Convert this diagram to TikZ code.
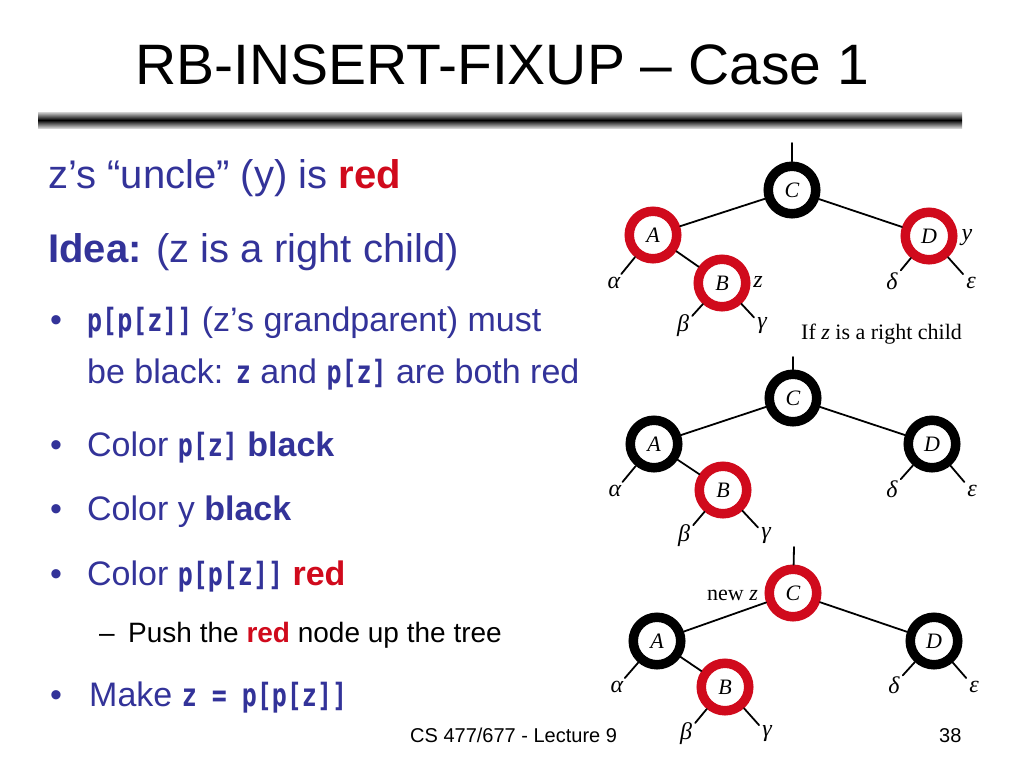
\documentclass[tikz,border=0pt]{standalone}
\usepackage{fontspec}
\setmainfont{Liberation Sans}
\newfontfamily\codefont[FakeStretch=0.78]{DejaVu Sans Mono}
\newfontfamily\tmsfont{Liberation Serif}
\definecolor{txtblue}{RGB}{51,51,153}
\definecolor{rbred}{RGB}{208,10,28}
\newcommand{\cd}[1]{{\codefont\bfseries\fontsize{32}{32}\selectfont #1}}
\newcommand{\rd}[1]{{\bfseries\color{rbred}#1}}
\begin{document}
\begin{tikzpicture}[x=1pt,y=-1pt,
  rbnode/.style={circle, minimum size=57pt, inner sep=0pt, outer sep=0pt,
    font=\tmsfont\itshape\fontsize{22}{22}\selectfont},
  rednode/.style={rbnode},
  blknode/.style={rbnode},
  redring/.style={draw=rbred, line width=9.5pt},
  blkring/.style={draw=black, line width=9.5pt},
  leaf/.style={font=\tmsfont\itshape\fontsize{24}{24}\selectfont, inner sep=3pt},
  tag/.style={font=\tmsfont\itshape\fontsize{24}{24}\selectfont, inner sep=0pt},
  edge/.style={line width=1.8pt, line cap=round},
  lvlone/.style={anchor=base west, inner sep=0pt, text=txtblue, font=\fontsize{40}{46}\selectfont},
  lvltwo/.style={anchor=base west, inner sep=0pt, text=txtblue, font=\fontsize{34}{40}\selectfont},
  bul/.style={anchor=base west, inner sep=0pt, text=txtblue, font=\fontsize{34}{40}\selectfont},
  subtxt/.style={anchor=base west, inner sep=0pt, text=black, font=\fontsize{28}{32}\selectfont},
  foot/.style={anchor=base west, inner sep=0pt, text=black, font=\fontsize{20}{24}\selectfont},
  caption/.style={anchor=base west, inner sep=0pt, text=black, font=\tmsfont\fontsize{22}{26}\selectfont}
]
\useasboundingbox[fill=white] (0,0) rectangle (1024,768);

% title
\node[anchor=base west, inner sep=0pt, font=\fontsize{57}{64}\selectfont] (title) at (135,84) {RB-INSERT-FIXUP -- Case 1};
\shade[top color=gray!35, bottom color=gray!35, middle color=black] (38,112) rectangle (962,128);

% left text
\node[lvlone] (l1) at (48,188) {z’s “uncle” (y) is \rd{red}};
\node[lvlone] (l2) at (48,262) {\textbf{Idea:} (z is a right child)};
\node[bul] (b1) at (50,331) {•};
\node[lvltwo] (t1) at (87,331) {\cd{p[p[z]]} (z’s grandparent) must};
\node[lvltwo] (t1b) at (87,383) {be black: \cd{z} and \cd{p[z]} are both red};
\node[bul] (b2) at (50,456) {•};
\node[lvltwo] (t2) at (87,456) {Color \cd{p[z]} \textbf{black}};
\node[bul] (b3) at (50,520) {•};
\node[lvltwo] (t3) at (87,520) {Color y \textbf{black}};
\node[bul] (b4) at (50,585) {•};
\node[lvltwo] (t4) at (87,585) {Color \cd{p[p[z]]} \rd{red}};
\node[subtxt] (d1) at (99,642) {--};
\node[subtxt] (s1) at (128,642) {Push the \rd{red} node up the tree};
\node[bul] (b5) at (50,706) {•};
\node[lvltwo] (t5) at (89,706) {Make \cd{z = p[p[z]]}};
\node[foot] (f1) at (410,742) {CS 477/677 - Lecture 9};
\node[foot] (f2) at (939,742) {38};

% ---------- tree 1 ----------
\coordinate (t1top) at (792,143);
\node[blknode] (C1) at (792,190) {C};
\node[rednode] (A1) at (653,235) {A};
\node[rednode] (B1) at (722,283) {B};
\node[rednode] (D1) at (929,236) {D};
\draw[blkring] (C1.center) circle[radius=23.75pt];
\draw[redring] (A1.center) circle[radius=23.75pt];
\draw[redring] (B1.center) circle[radius=23.75pt];
\draw[redring] (D1.center) circle[radius=23.75pt];
\node[leaf] (al1) at (614,283) {α};
\node[leaf] (be1) at (683,326) {β};
\node[leaf] (ga1) at (762,326) {γ};
\node[leaf] (de1) at (892,281) {δ};
\node[leaf] (ep1) at (971,283) {ε};
\node[tag] (z1) at (758,282) {z};
\node[tag] (y1) at (967,238) {y};
\node[caption] (cap1) at (801,339) {If \textit{z} is a right child};
\draw[edge] (t1top) -- (C1);
\draw[edge] (C1) -- (A1);
\draw[edge] (C1) -- (D1);
\draw[edge] (A1) -- (B1);
\draw[edge] (A1) -- (al1);
\draw[edge] (B1) -- (be1);
\draw[edge] (B1) -- (ga1);
\draw[edge] (D1) -- (de1);
\draw[edge] (D1) -- (ep1);

% ---------- tree 2 ----------
\coordinate (t2top) at (793,357);
\node[blknode] (C2) at (793,398) {C};
\node[blknode] (A2) at (654,444) {A};
\node[rednode] (B2) at (723,490) {B};
\node[blknode] (D2) at (932,444) {D};
\draw[blkring] (C2.center) circle[radius=23.75pt];
\draw[blkring] (A2.center) circle[radius=23.75pt];
\draw[redring] (B2.center) circle[radius=23.75pt];
\draw[blkring] (D2.center) circle[radius=23.75pt];
\node[leaf] (al2) at (615,491) {α};
\node[leaf] (be2) at (684,536) {β};
\node[leaf] (ga2) at (766,536) {γ};
\node[leaf] (de2) at (892,489) {δ};
\node[leaf] (ep2) at (972,491) {ε};
\draw[edge] (t2top) -- (C2);
\draw[edge] (C2) -- (A2);
\draw[edge] (C2) -- (D2);
\draw[edge] (A2) -- (B2);
\draw[edge] (A2) -- (al2);
\draw[edge] (B2) -- (be2);
\draw[edge] (B2) -- (ga2);
\draw[edge] (D2) -- (de2);
\draw[edge] (D2) -- (ep2);

% ---------- tree 3 ----------
\coordinate (t3top) at (794,547);
\node[rednode] (C3) at (793,593) {C};
\node[blknode] (A3) at (657,641) {A};
\node[rednode] (B3) at (725,687) {B};
\node[blknode] (D3) at (934,641) {D};
\draw[redring] (C3.center) circle[radius=23.75pt];
\draw[blkring] (A3.center) circle[radius=23.75pt];
\draw[redring] (B3.center) circle[radius=23.75pt];
\draw[blkring] (D3.center) circle[radius=23.75pt];
\node[leaf] (al3) at (617,687) {α};
\node[leaf] (be3) at (686,734) {β};
\node[leaf] (ga3) at (767,734) {γ};
\node[leaf] (de3) at (894,685) {δ};
\node[leaf] (ep3) at (974,687) {ε};
\node[caption] (nz) at (707,600) {new \textit{z}};
\draw[edge] (t3top) -- (C3);
\draw[edge] (C3) -- (A3);
\draw[edge] (C3) -- (D3);
\draw[edge] (A3) -- (B3);
\draw[edge] (A3) -- (al3);
\draw[edge] (B3) -- (be3);
\draw[edge] (B3) -- (ga3);
\draw[edge] (D3) -- (de3);
\draw[edge] (D3) -- (ep3);
\end{tikzpicture}
\end{document}
